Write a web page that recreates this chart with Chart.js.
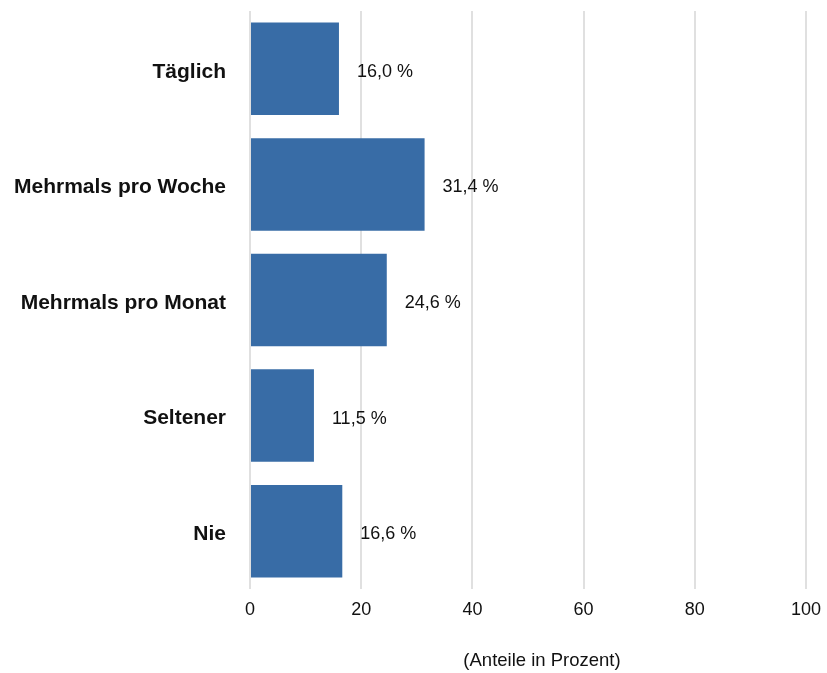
<!DOCTYPE html>
<html>
<head>
<meta charset="utf-8">
<script src="https://cdn.jsdelivr.net/npm/chart.js@4"></script>
<style>
	html, body { margin: 0; padding: 0; background: #fff; }
	#wrap { width: 827px; height: 673px; }
</style>
</head>
<body>
<div id="wrap"><canvas id="chart" width="827" height="673"></canvas></div>
<script>
const categories = ['Täglich', 'Mehrmals pro Woche', 'Mehrmals pro Monat', 'Seltener', 'Nie']
const values = [16.0, 31.4, 24.6, 11.5, 16.6]
const xTicks = [0, 20, 40, 60, 80, 100]
const axisTitle = '(Anteile in Prozent)'

const FONT = '"Liberation Sans", Arial, sans-serif'

// draws "16,0 %" next to each bar, plus the x axis title (sits a bit right of center in the original)
const valueLabels = {
	id: 'valueLabels',
	afterDatasetsDraw(chart) {
		const ctx = chart.ctx
		const meta = chart.getDatasetMeta(0)
		ctx.save()
		ctx.font = '18px ' + FONT
		ctx.fillStyle = '#111'
		ctx.textAlign = 'left'
		ctx.textBaseline = 'middle'
		meta.data.forEach((bar, i) => {
			const txt = values[i].toFixed(1).replace('.', ',') + ' %'
			ctx.fillText(txt, bar.x + 18, bar.y + 3)
		})
		const area = chart.chartArea
		ctx.font = '18.5px ' + FONT
		ctx.textAlign = 'center'
		ctx.fillText(axisTitle, (area.left + area.right) / 2 + 14, area.bottom + 72)
		ctx.restore()
	}
}

new Chart(document.getElementById('chart'), {
	type: 'bar',
	data: {
		labels: categories,
		datasets: [{
			data: values,
			backgroundColor: '#386ca6',
			barPercentage: 0.8,
			categoryPercentage: 1
		}]
	},
	options: {
		indexAxis: 'y',
		responsive: false,
		animation: false,
		layout: { padding: { top: 11, right: 21, left: 0, bottom: 0 } },
		plugins: {
			legend: { display: false },
			tooltip: { enabled: false }
		},
		scales: {
			x: {
				min: 0,
				max: 100,
				afterBuildTicks: (scale) => { scale.ticks = xTicks.map(v => ({ value: v })) },
				afterFit: (scale) => { scale.height = 84; scale.paddingLeft = 0; scale.paddingRight = 0 },
				grid: { color: '#e0e0e0', lineWidth: 2, drawTicks: false },
				border: { display: false },
				ticks: {
					padding: 10,
					color: '#111',
					font: { family: FONT, size: 18 }
				}
			},
			y: {
				afterFit: (scale) => { scale.width = 250; scale.paddingTop = 0; scale.paddingBottom = 0 },
				grid: { display: false },
				border: { display: false },
				ticks: {
					padding: 16,
					labelOffset: 3,
					color: '#111',
					font: { family: FONT, size: 21, weight: 'bold' }
				}
			}
		}
	},
	plugins: [valueLabels]
})
</script>
</body>
</html>
